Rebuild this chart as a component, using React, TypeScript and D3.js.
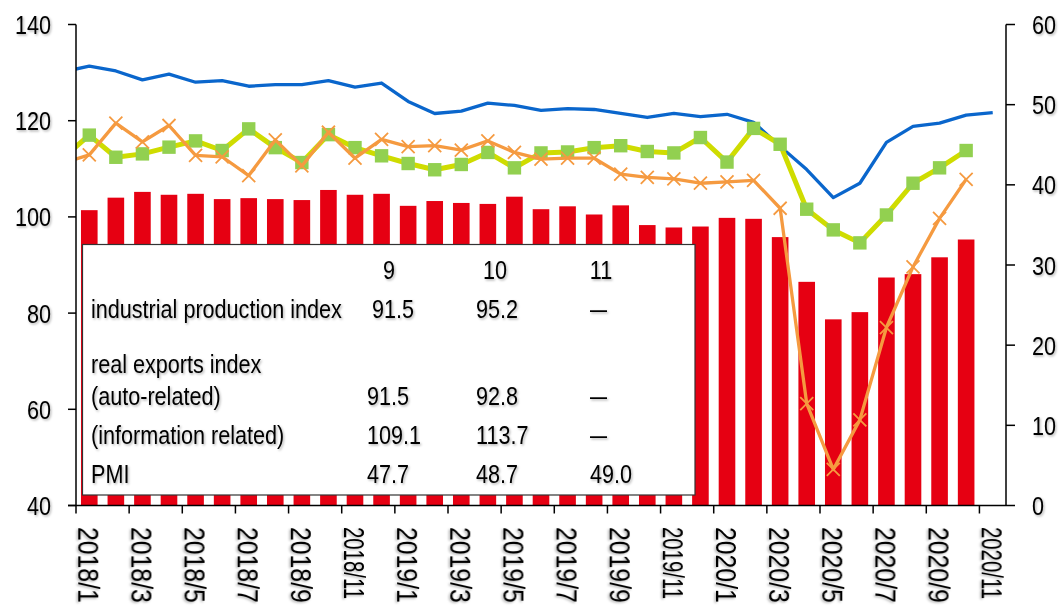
import * as d3 from 'd3';

const months = [
  '2018/1', '2018/2', '2018/3', '2018/4', '2018/5', '2018/6', '2018/7', '2018/8', '2018/9', '2018/10', '2018/11', '2018/12',
  '2019/1', '2019/2', '2019/3', '2019/4', '2019/5', '2019/6', '2019/7', '2019/8', '2019/9', '2019/10', '2019/11', '2019/12',
  '2020/1', '2020/2', '2020/3', '2020/4', '2020/5', '2020/6', '2020/7', '2020/8', '2020/9', '2020/10', '2020/11',
];

// industrial production index (bars, left axis)
const industrialProduction = [
  101.4, 104.0, 105.2, 104.6, 104.8, 103.7, 103.9, 103.7, 103.5, 105.6, 104.6, 104.8,
  102.3, 103.3, 102.9, 102.7, 104.2, 101.6, 102.2, 100.5, 102.4, 98.3, 97.8, 98.0,
  99.8, 99.6, 95.8, 86.5, 78.7, 80.2, 87.4, 88.1, 91.6, 95.3,
];

// PMI (blue line, right axis)
const pmiPrev = 54.1;
const pmi = [
  54.8, 54.2, 53.1, 53.8, 52.8, 53.0, 52.3, 52.5, 52.5, 53.0, 52.2, 52.7,
  50.4, 48.9, 49.2, 50.2, 49.9, 49.3, 49.5, 49.4, 48.9, 48.4, 48.9, 48.5,
  48.8, 47.8, 44.8, 41.9, 38.4, 40.2, 45.3, 47.3, 47.7, 48.7, 49.0,
];

// real exports (green line with squares, left axis)
const exportsGreenPrev = 112.2;
const exportsGreen = [
  117.0, 112.4, 113.1, 114.5, 115.8, 113.8, 118.3, 114.4, 111.3, 117.1, 114.4, 112.7,
  111.1, 109.8, 110.9, 113.4, 110.2, 113.3, 113.5, 114.4, 114.8, 113.6, 113.3, 116.5,
  111.4, 118.4, 115.1, 101.6, 97.3, 94.6, 100.4, 107.0, 110.2, 113.8,
];

// real exports (orange line with crosses, left axis)
const exportsOrangePrev = 111.2;
const exportsOrange = [
  112.9, 119.5, 115.6, 119.0, 112.8, 112.5, 108.6, 116.0, 110.6, 117.6, 112.2, 116.1,
  114.6, 114.8, 113.9, 115.8, 113.4, 112.0, 112.2, 112.2, 108.9, 108.2, 107.9, 107.0,
  107.3, 107.6, 101.8, 61.2, 47.5, 57.8, 77.0, 89.6, 99.7, 107.8,
];

const leftTicks = [40, 60, 80, 100, 120, 140];
const rightTicks = [0, 10, 20, 30, 40, 50, 60];

const tableMonths = ['9', '10', '11'];
const tableLabels = [
  'industrial production index',
  'real exports index',
  '(auto-related)',
  '(information related)',
  'PMI',
];
const tableValues = [
  ['91.5', '95.2', '—'],
  [],
  ['91.5', '92.8', '—'],
  ['109.1', '113.7', '—'],
  ['47.7', '48.7', '49.0'],
];

const W = 1061;
const H = 607;
const left = 76;
const right = 1006;
const top = 24.5;
const bottom = 505.5;
const FONT = "'Liberation Sans', Arial, sans-serif";
const STRETCH = 1.22;

const T = ({ x, y, size = 21.6, anchor = 'start', rotate = 0, dy = '0', len, children }: any) => (
  <text
    transform={`translate(${x},${y}) rotate(${rotate}) scale(1,${STRETCH})`}
    fontSize={size}
    textAnchor={anchor}
    dy={dy}
    fontFamily={FONT}
    fill='#000'
    filter='url(#shadow)'
    textLength={len}
    lengthAdjust={len ? 'spacingAndGlyphs' : undefined}
  >
    {children}
  </text>
);

const App = () => {
  const x = d3.scaleBand<string>().domain(months).range([left, right]).paddingInner(0.375).paddingOuter(0.1875);
  const step = x.step();
  const cx = (i: number) => (x(months[i]) as number) + x.bandwidth() / 2;
  const yL = d3.scaleLinear().domain([40, 140]).range([bottom, top]);
  const yR = d3.scaleLinear().domain([0, 60]).range([bottom, top]);

  const withPrev = (prev: number, vals: number[]) =>
    [{ x: cx(0) - step, v: prev }, ...vals.map((v, i) => ({ x: cx(i), v }))];

  const lineL = d3.line<{ x: number; v: number }>().x((d) => d.x).y((d) => yL(d.v));
  const lineR = d3.line<{ x: number; v: number }>().x((d) => d.x).y((d) => yR(d.v));

  const greenPts = withPrev(exportsGreenPrev, exportsGreen);
  const orangePts = withPrev(exportsOrangePrev, exportsOrange);

  const tickIdx = months.map((_, i) => i).filter((i) => i % 2 === 0);
  const rowBase = [318.3, 372.5, 405, 444, 483.3];
  const colX = [367, 476, 590];
  const headX = [389, 495, 601];

  return (
    <svg width={W} height={H} style={{ position: 'absolute', left: 0, top: 0, background: '#fff' }}>
      <defs>
        <clipPath id='plot'>
          <rect x={left} y={0} width={right - left} height={bottom} />
        </clipPath>
        <filter id='shadow' x='-10%' y='-20%' width='130%' height='150%'>
          <feDropShadow dx='1.2' dy='1.2' stdDeviation='0.9' floodColor='#000' floodOpacity='0.3' />
        </filter>
      </defs>

      {/* bars */}
      {industrialProduction.map((v, i) => (
        <rect
          key={i}
          x={x(months[i])}
          y={yL(v)}
          width={x.bandwidth()}
          height={bottom - yL(v)}
          fill='#e60012'
        />
      ))}

      {/* table box */}
      <rect x={82.5} y={244.5} width={612.5} height={250.5} fill='#fff' stroke='#333' strokeWidth={1.2} />
      {tableMonths.map((m, j) => (
        <T key={m} x={headX[j]} y={279.3} anchor='middle'>{m}</T>
      ))}
      {tableLabels.map((l, r) => (
        <T key={l} x={91} y={rowBase[r]}>{l}</T>
      ))}
      {tableValues.map((row, r) =>
        row.map((v, j) => (
          <T
            key={`${r}-${j}`}
            x={colX[j] + (r === 0 && j === 0 ? 5 : 0)}
            y={rowBase[r]}
            len={v === '—' ? 17 : undefined}
          >
            {v}
          </T>
        )),
      )}

      {/* lines */}
      <g clipPath='url(#plot)' fill='none' strokeLinejoin='round'>
        <path d={lineR(withPrev(pmiPrev, pmi)) as string} stroke='#0a66cc' strokeWidth={3.3} />
        <path d={lineL(greenPts) as string} stroke='#cfdc00' strokeWidth={5} />
        {greenPts.slice(1).map((d, i) => (
          <rect key={i} x={d.x - 6.7} y={yL(d.v) - 6.7} width={13.4} height={13.4} fill='#92d050' />
        ))}
        <path d={lineL(orangePts) as string} stroke='#f59a40' strokeWidth={3.3} />
        {orangePts.slice(1).map((d, i) => {
          const px = d.x;
          const py = yL(d.v);
          const s = 6.5;
          return (
            <path
              key={i}
              d={`M${px - s},${py - s}L${px + s},${py + s}M${px - s},${py + s}L${px + s},${py - s}`}
              stroke='#f59a40'
              strokeWidth={1.8}
            />
          );
        })}
      </g>

      {/* axes */}
      <g stroke='#000' strokeWidth={1.5}>
        <line x1={left} y1={top} x2={left} y2={bottom} />
        <line x1={right} y1={top} x2={right} y2={bottom} />
        <line x1={left - 8} y1={bottom} x2={right} y2={bottom} />
        {leftTicks.map((t) => (
          <line key={t} x1={left - 8} y1={yL(t)} x2={left} y2={yL(t)} />
        ))}
        {rightTicks.map((t) => (
          <line key={t} x1={right} y1={yR(t)} x2={right + 9} y2={yR(t)} />
        ))}
        {tickIdx.map((i) => (
          <line key={i} x1={x(months[i])! - step * 0.1875} y1={bottom} x2={x(months[i])! - step * 0.1875} y2={bottom + 8} />
        ))}
      </g>
      {leftTicks.map((t) => (
        <T key={t} x={51} y={yL(t)} anchor='end' dy='0.36em'>{t}</T>
      ))}
      {rightTicks.map((t) => (
        <T key={t} x={1032} y={yR(t)} dy='0.36em'>{t}</T>
      ))}
      {tickIdx.map((i) => (
        <T
          key={i}
          x={cx(i)}
          y={527}
          rotate={90}
          size={24.8}
          dy='0.36em'
          len={months[i].length > 6 ? 72 : undefined}
        >
          {months[i]}
        </T>
      ))}
    </svg>
  );
};

export default App;
